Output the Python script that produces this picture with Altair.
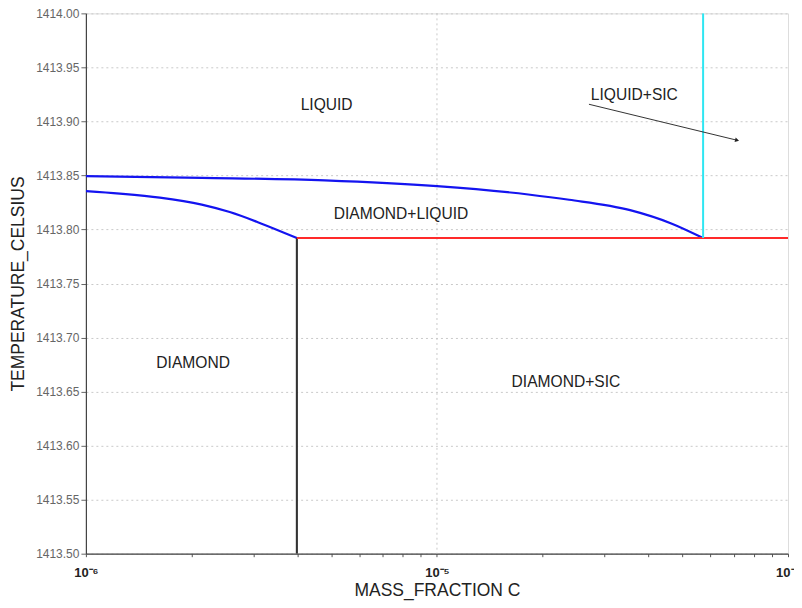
import math
import altair as alt
import pandas as pd

# ---------------- data ----------------
upper_x = [1.0e-6, 2.14e-6, 4.79e-6, 1.0e-5, 1.82e-5, 2.38e-5, 3.55e-5, 4.65e-5, 5.73e-5]
upper_t = [1413.8494, 1413.8478, 1413.8454, 1413.8401, 1413.8324, 1413.8275, 1413.8179, 1413.8056, 1413.7921]

lower_x = [1.0e-6, 1.249e-6, 1.624e-6, 2.138e-6, 2.569e-6, 3.126e-6, 3.99e-6]
lower_t = [1413.8355, 1413.8332, 1413.8295, 1413.8230, 1413.8161, 1413.8061, 1413.7921]

solvus_x = [3.99e-6, 3.99e-6]
solvus_t = [1413.50, 1413.7921]

eutectic_x = [3.99e-6, 1.0e-4]
eutectic_t = [1413.7921, 1413.7921]

sic_x = [5.73e-5, 5.73e-5]
sic_t = [1413.7921, 1414.00]

series_names = ["upper", "lower", "solvus", "eutectic", "sic"]
series_colors = ["#1414f0", "#1414f0", "#333333", "#ff2a2a", "#2ee6f2"]
series_widths = [2.2, 2.0, 1.6, 2.4, 1.6]

region_labels = ["LIQUID", "LIQUID+SIC", "DIAMOND+LIQUID", "DIAMOND", "DIAMOND+SIC"]
region_x = [4.85e-6, 3.65e-5, 7.90e-6, 2.02e-6, 2.33e-5]
region_t = [1413.915, 1413.924, 1413.8142, 1413.676, 1413.6585]

arrow_x = [2.71e-5, 7.16e-5]
arrow_t = [1413.9159, 1413.8826]

y_ticks = [1413.50, 1413.55, 1413.60, 1413.65, 1413.70, 1413.75,
           1413.80, 1413.85, 1413.90, 1413.95, 1414.00]
x_ticks = [1e-6, 2e-6, 3e-6, 4e-6, 5e-6, 6e-6, 7e-6, 8e-6, 9e-6,
           1e-5, 2e-5, 3e-5, 4e-5, 5e-5, 6e-5, 7e-5, 8e-5, 9e-5, 1e-4]
x_major = [1e-6, 1e-5, 1e-4]
x_major_labels = ["10\u207b\u2076", "10\u207b\u2075", "10\u207b\u2074"]
x_grid_values = [1e-5]

# ---------------- tables ----------------
rows = []
for name, xs, ts in [("upper", upper_x, upper_t), ("lower", lower_x, lower_t),
                     ("solvus", solvus_x, solvus_t), ("eutectic", eutectic_x, eutectic_t),
                     ("sic", sic_x, sic_t)]:
    for i, (xv, tv) in enumerate(zip(xs, ts)):
        rows.append({"series": name, "i": i, "x": xv, "t": tv})
lines_df = pd.DataFrame(rows)
labels_df = pd.DataFrame({"label": region_labels, "x": region_x, "t": region_t})
arrow_df = pd.DataFrame({"i": [0, 1], "x": arrow_x, "t": arrow_t})
head_df = arrow_df.iloc[[1]]
grid_df = pd.DataFrame({"x": x_grid_values})

FONT = "Liberation Sans"
GRID = "#c9c9c9"

def is_val(v):
    return f"abs(log(datum.value)/LN10 - ({math.log10(v):.4f})) < 0.001"

label_expr = ""
for v, lab in zip(x_major, x_major_labels):
    label_expr += f"{is_val(v)} ? '{lab}' : "
label_expr += "''"

x_scale = alt.Scale(type="log", domain=[1e-6, 1e-4], nice=False)
y_scale = alt.Scale(domain=[1413.5, 1414.0], nice=False, zero=False)

x_axis = alt.Axis(
    title="MASS_FRACTION C",
    values=x_ticks,
    labelExpr=label_expr,
    labelFlush=False,
    labelOverlap=False,
    labelFont=FONT, labelFontSize=13, labelFontWeight="bold", labelColor="#222222",
    labelPadding=10,
    tickSize=3, tickColor="#555555",
    domainColor="#444444", domainWidth=1.2,
    grid=False,
    titleFont=FONT, titleFontSize=17.5, titleFontWeight="normal", titleColor="#222222",
    titleY=37, titleBaseline="middle",
)
y_axis = alt.Axis(
    title="TEMPERATURE_CELSIUS",
    values=y_ticks,
    format=".2f",
    labelFont=FONT, labelFontSize=12, labelColor="#666666",
    labelPadding=2,
    tickSize=5, tickColor="#666666",
    domainColor="#444444", domainWidth=1.2,
    grid=True, gridColor=GRID, gridDash=[2, 3],
    titleFont=FONT, titleFontSize=17.5, titleFontWeight="normal", titleColor="#222222",
    titleX=-67.5, titleY=270.5, titleAngle=-90, titleAlign="center", titleBaseline="middle",
)

base_x = alt.X("x:Q", scale=x_scale, axis=x_axis)
base_y = alt.Y("t:Q", scale=y_scale, axis=y_axis)

vgrid = alt.Chart(grid_df).mark_rule(color=GRID, strokeDash=[2, 3], strokeWidth=1).encode(
    x=alt.X("x:Q", scale=x_scale, axis=x_axis)
)

lines = alt.Chart(lines_df).mark_line(interpolate="monotone", clip=True).encode(
    x=base_x,
    y=base_y,
    color=alt.Color("series:N", scale=alt.Scale(domain=series_names, range=series_colors), legend=None),
    strokeWidth=alt.StrokeWidth("series:N", scale=alt.Scale(domain=series_names, range=series_widths), legend=None),
    detail="series:N",
    order="i:Q",
)

texts = alt.Chart(labels_df).mark_text(
    font=FONT, fontSize=15.6, color="#222222", align="center", baseline="middle"
).encode(x="x:Q", y="t:Q", text="label:N")

arrow = alt.Chart(arrow_df).mark_line(color="#333333", strokeWidth=1).encode(
    x="x:Q", y="t:Q", order="i:Q"
)
head = alt.Chart(head_df).mark_point(
    shape="triangle-right", filled=True, color="#222222", size=22, angle=14, opacity=1
).encode(x="x:Q", y="t:Q")

chart = alt.layer(vgrid, lines, arrow, head, texts).properties(
    width=703, height=541,
    autosize=alt.AutoSizeParams(type="none"),
    padding={"left": 78, "top": 5, "right": 6, "bottom": 50},
).configure_view(stroke="#888888", strokeWidth=1.2).configure(background="white")

chart.save("out.html", embed_options={"renderer": "svg", "actions": False})
